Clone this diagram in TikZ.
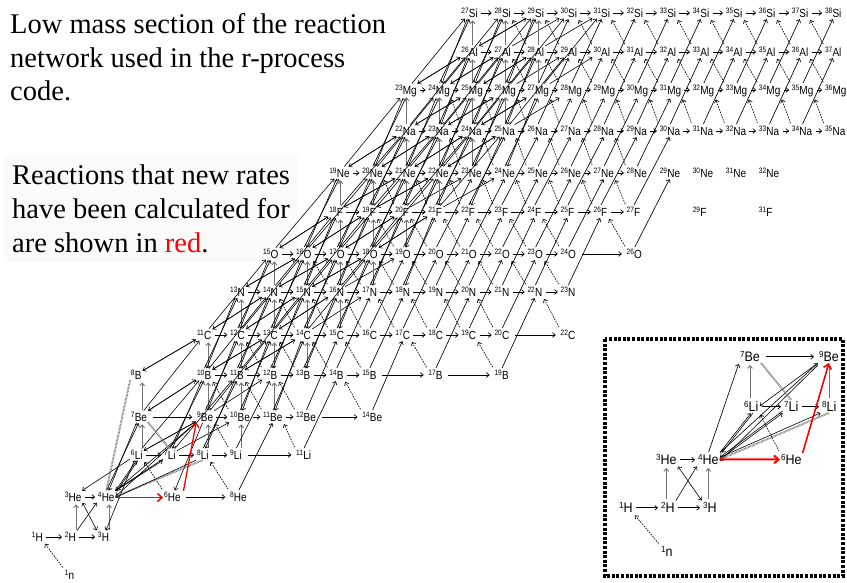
\documentclass[tikz,border=0pt]{standalone}
\usepackage{fontspec}
\usepackage{graphicx}
\setmainfont{Liberation Serif}
\newfontfamily\nucfam{Liberation Sans}
\usetikzlibrary{arrows.meta}

\newcommand\nuclabel[2]{\scalebox{1}[1.18]{\raisebox{3.5pt}{\fontsize{6.6}{6.6}\selectfont #1}\kern0.2pt #2}}
\newcommand\inuclabel[2]{\scalebox{1}[1.1]{\raisebox{4.3pt}{\fontsize{8}{8}\selectfont #1}\kern0.2pt #2}}
\newcommand\ifnuc[2]{\ifcsname pgf@sh@ns@#1\endcsname #2\fi}

\def\rowy{{575,537,497,455,417,375,335,292,254,212,173,131,90,52,13}}
\def\nvmax{{-1,-1,2,-1,6,7,8,9,10,11,12,13,14,15,15,-1,-1}}
\def\nbeta{{1,99,4,5,6,7,8,9,11,11,13,13,15,15,99,99,99}}
\def\ndense{{-1,-1,-1,4,5,6,8,9,10,12,12,14,15,15,15,-1,-1}}

\newcommand\nucrow[3]{%
  \pgfmathsetmacro\yy{\rowy[#1]+4.3}%
  \foreach \n in {#3}{%
    \pgfmathtruncatemacro\nucA{\n+#1}%
    \node[nuc] (z#1n\n) at ({31+33.05*\n},\yy) {\nuclabel{\nucA}{#2}};}}

\tikzset{
  nuc/.style={anchor=base west, inner sep=0.6pt, font=\nucfam\fontsize{10}{10}\selectfont},
  inuc/.style={anchor=base west, inner sep=0.8pt, font=\nucfam\fontsize{12.5}{13}\selectfont},
  tip/.style={-{Straight Barb[length=2.8pt,width=4.8pt]}},
  hz/.style={tip, line width=0.7pt, shorten <=2.5pt, shorten >=2pt},
  lhz/.style={tip, line width=0.7pt, shorten <=5pt, shorten >=4pt},
  pc/.style={tip, line width=0.9pt, draw=black!55},
  beta/.style={tip, line width=0.65pt, dash pattern=on 1.6pt off 1.1pt, shorten <=2pt, shorten >=2pt},
  an/.style={tip, line width=0.65pt, shorten <=1pt, shorten >=1pt},
  dn/.style={tip, line width=0.6pt, shorten <=0.5pt, shorten >=0.5pt},
  redarr/.style={-{Straight Barb[length=4.5pt,width=8pt]}, draw=red, line width=1.6pt},
  gdot/.style={draw=black!50, line width=2pt, dash pattern=on 0.7pt off 0.7pt},
  bigtxt/.style={anchor=base west, inner sep=0pt, font=\fontsize{28.5}{34}\selectfont},
}

\begin{document}
\begin{tikzpicture}[x=1pt,y=-1pt]
\useasboundingbox (0,0) rectangle (847,582);
\fill[white] (0,0) rectangle (847,582);
\fill[black!2] (4,155) rectangle (298,262);

% texts
\node[bigtxt] (t1) at (10,33.5) {Low mass section of the reaction};
\node[bigtxt] (t2) at (10,67) {network used in the r-process};
\node[bigtxt] (t3) at (10,100.5) {code.};
\node[bigtxt] (t4) at (12,184) {Reactions that new rates};
\node[bigtxt] (t5) at (12,218) {have been calculated for};
\node[bigtxt] (t6) at (12,252) {are shown in \textcolor{red}{red}.};

% nuclides
\nucrow{0}{n}{1}
\nucrow{1}{H}{0,1,2}
\nucrow{2}{He}{1,2,4,6}
\nucrow{3}{Li}{3,4,5,6,8}
\nucrow{4}{Be}{3,5,6,7,8,10}
\nucrow{5}{B}{3,5,6,7,8,9,10,12,14}
\nucrow{6}{C}{5,...,14,16}
\nucrow{7}{N}{6,...,16}
\nucrow{8}{O}{7,...,16,18}
\nucrow{9}{F}{9,...,18,20,22}
\nucrow{10}{Ne}{9,...,22}
\nucrow{11}{Na}{11,...,24}
\nucrow{12}{Mg}{11,...,24}
\nucrow{13}{Al}{13,...,24}
\nucrow{14}{Si}{13,...,24}

% systematic reactions
\foreach \z in {0,...,14}{%
 \foreach \n in {0,...,24}{%
  \ifcsname pgf@sh@ns@z\z n\n\endcsname
   \pgfmathtruncatemacro\Zp{\z+1}%
   \pgfmathtruncatemacro\Zpp{\z+2}%
   \pgfmathtruncatemacro\Zm{\z-1}%
   \pgfmathtruncatemacro\Zmm{\z-2}%
   \pgfmathtruncatemacro\Np{\n+1}%
   \pgfmathtruncatemacro\Npp{\n+2}%
   \pgfmathtruncatemacro\Nm{\n-1}%
   \pgfmathtruncatemacro\Nmm{\n-2}%
   \pgfmathtruncatemacro\exH{((\z==9)||(\z==10))&&(\n>17)}%
   \pgfmathtruncatemacro\exB{((\z==9)||(\z==10))&&(\n>18)}%
   \pgfmathtruncatemacro\exR{(\z==2)&&(\n==4)}%
   \pgfmathtruncatemacro\vmax{\nvmax[\Zp]}%
   \pgfmathtruncatemacro\bmin{\nbeta[\z]}%
   \pgfmathtruncatemacro\dmax{\ndense[\z]}%
   \ifnum\exH=0\relax
     \ifnuc{z\z n\Np}{\draw[hz] ([yshift=4.3pt]z\z n\n.base east) -- ([yshift=4.3pt]z\z n\Np.base west);}%
   \fi
   \ifnum\n>\vmax\relax\else
     \ifnuc{z\Zp n\n}{\draw[pc] ([xshift=12pt,yshift=11pt]z\z n\n.base west) -- ([xshift=12pt,yshift=-3pt]z\Zp n\n.base west);}%
   \fi
   \ifnum\exB=0\relax
     \ifnum\n<\bmin\relax\else
       \ifnuc{z\Zp n\Nm}{\draw[beta] (z\z n\n.north west) -- (z\Zp n\Nm.south east);}%
     \fi
     \ifnum\z>1\relax\ifnum\exR=0\relax
       \ifnuc{z\Zpp n\Np}{\draw[an] (z\z n\n.north) -- (z\Zpp n\Np.south);}%
     \fi\fi
   \fi
   \ifnum\n>\dmax\relax\else
     \ifnuc{z\Zpp n\Npp}{\draw[dn] (z\z n\n) -- (z\Zpp n\Npp);}%
     \ifnuc{z\Zp n\Npp}{\draw[dn] (z\z n\n) -- (z\Zp n\Npp);}%
     \ifnuc{z\Zm n\Nmm}{\draw[dn] (z\z n\n) -- (z\Zm n\Nmm);}%
     \ifnuc{z\Zmm n\Nm}{\draw[dn] (z\z n\n) -- (z\Zmm n\Nm);}%
   \fi
  \fi
 }}

% long neutron-capture arrows across gaps
\foreach \z/\a/\b in {2/4/6, 3/6/8, 4/3/5, 4/8/10, 5/10/12, 5/12/14, 6/14/16, 8/16/18}{%
  \draw[lhz] ([yshift=4.3pt]z\z n\a.base east) -- ([yshift=4.3pt]z\z n\b.base west);}

% light corner specials (main)
\draw[dn] (z1n1.north east) -- (z2n2.south west);
\draw[dn,{Straight Barb[length=2.8pt,width=4.8pt]}-{Straight Barb[length=2.8pt,width=4.8pt]}] (z2n1.south east) -- (z1n2.north west);
\draw[dn] (z2n2.north east) -- (z3n3.south);
\draw[dn, transform canvas={xshift=1.5pt}] (z3n3.south) -- (z2n2.north east);
\draw[dn] (z2n2.north east) -- (z3n4.south west);
\draw[dn] (z2n2.north east) -- (z4n5.south west);
\draw[dn] (z4n5.south west) -- (z2n2.east);
\draw[gdot] (z2n2.east) -- (z3n5.south);
\draw[dn] (z3n5.south west) -- ([yshift=-1pt]z2n2.east);
\draw[gdot] (z5n3.south west) -- (z2n2.north);
\draw[gdot] (z4n3.south east) -- (z3n4.north);
\draw[redarr] ([yshift=3.8pt]z2n2.base east) -- ([yshift=3.8pt]z2n4.base west);
\draw[redarr, line width=1.3pt] ([xshift=2pt]z2n4.north east) -- (z4n5.south west);

% inset
\draw[line width=4pt, dash pattern=on 3pt off 1.6pt] (605,339) rectangle (843,576);
\node[inuc] (i1H) at (618,512.8) {\inuclabel{1}{H}};
\node[inuc] (i2H) at (660,512.8) {\inuclabel{2}{H}};
\node[inuc] (i3H) at (702,512.8) {\inuclabel{3}{H}};
\node[inuc] (i3He) at (655,464.8) {\inuclabel{3}{He}};
\node[inuc] (i4He) at (697,464.8) {\inuclabel{4}{He}};
\node[inuc] (i6He) at (780,464.8) {\inuclabel{6}{He}};
\node[inuc] (i6Li) at (743,411.8) {\inuclabel{6}{Li}};
\node[inuc] (i7Li) at (783,411.8) {\inuclabel{7}{Li}};
\node[inuc] (i8Li) at (821,411.8) {\inuclabel{8}{Li}};
\node[inuc] (i7Be) at (739,361.8) {\inuclabel{7}{Be}};
\node[inuc] (i9Be) at (818,361.8) {\inuclabel{9}{Be}};
\node[inuc] (i1n) at (660,556.8) {\inuclabel{1}{n}};

\foreach \a/\b in {i1H/i2H, i2H/i3H, i3He/i4He, i6Li/i7Li, i7Li/i8Li}{%
  \draw[hz] ([yshift=5pt]\a.base east) -- ([yshift=5pt]\b.base west);}
\draw[lhz] ([yshift=5pt]i7Be.base east) -- ([yshift=5pt]i9Be.base west);
\foreach \a/\b in {i2H/i3He, i3H/i4He, i6Li/i7Be, i8Li/i9Be}{%
  \draw[pc, shorten <=2pt, shorten >=2pt] (\b.south |- \a.north) -- (\b.south);}
\draw[dn] (i2H.north east) -- (i4He.south west);
\draw[dn,{Straight Barb[length=2.8pt,width=4.8pt]}-{Straight Barb[length=2.8pt,width=4.8pt]}] (i3He.south east) -- (i3H.north west);
\draw[beta] (i1n.north west) -- (i1H.south east);
\draw[an] (i4He.north) -- (i7Be.south west);
\draw[dn] (i4He.north east) -- (i6Li.south);
\draw[dn, transform canvas={xshift=2pt}] (i6Li.south) -- (i4He.north east);
\draw[dn] (i4He.east) -- (i7Li.south west);
\draw[dn, transform canvas={yshift=2pt}] (i7Li.south west) -- (i4He.east);
\draw[dn] (i4He.north east) -- (i9Be.south west);
\draw[dn, transform canvas={yshift=-2pt}] (i9Be.south west) -- (i4He.east);
\draw[gdot] (i4He.east) -- (i8Li.south);
\draw[dn] ([yshift=2pt]i4He.east) -- (i8Li.south west);
\draw[gdot] (i7Be.south east) -- (i7Li.north);
\draw[beta] (i6He.north west) -- (i6Li.south east);
\draw[dn] (i9Be.south west) -- (i6Li.east);
\draw[redarr, line width=2pt] (i4He.east) -- (i6He.west);
\draw[redarr] (i6He.north east) -- (i9Be.south);
\end{tikzpicture}
\end{document}
